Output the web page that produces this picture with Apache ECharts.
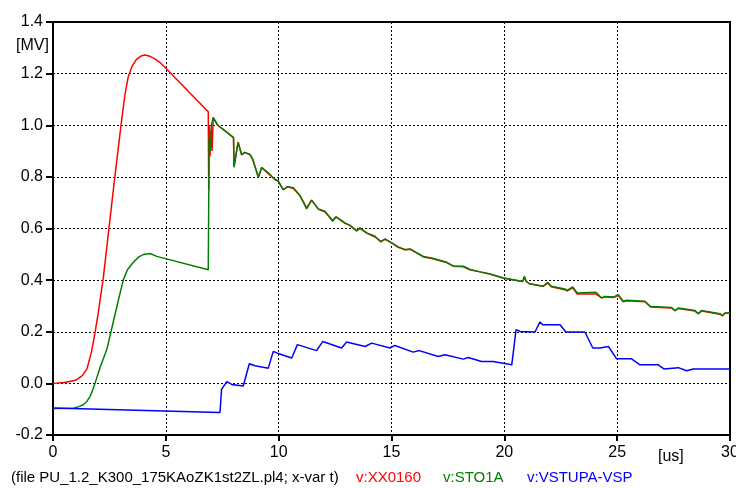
<!DOCTYPE html>
<html><head><meta charset="utf-8">
<script src="https://cdn.jsdelivr.net/npm/echarts@6/dist/echarts.min.js"></script>
<style>html,body{margin:0;padding:0;background:#fff}#c{width:736px;height:488px}</style>
</head><body><div id="c"></div>
<script>
const xTicks = [0,5,10,15,20,25,30];
const yTicks = [-0.2,0,0.2,0.4,0.6,0.8,1.0,1.2,1.4];
const seriesNames = ['v:XX0160','v:STO1A','v:VSTUPA-VSP'];
const fileLabel = '(file PU_1.2_K300_175KAoZK1st2ZL.pl4; x-var t)';

const redXX0160 = [[0,0],[0.5,0.003],[1.0,0.012],[1.3,0.03],[1.5,0.055],[1.7,0.12],[1.85,0.19],[2.0,0.27],[2.23,0.41],[2.7,0.77],[3.0,0.99],[3.19,1.12],[3.34,1.19],[3.5,1.228],[3.7,1.255],[3.9,1.268],[4.08,1.272],[4.3,1.267],[4.5,1.258],[4.74,1.243],[5.04,1.217],[6.88,1.052],[6.9,0.75],[6.93,1.0],[6.96,0.88],[7.0,0.98],[7.05,0.9],[7.1,1.03],[7.3,1.0],[7.6,0.98],[8.0,0.952],[8.02,0.84],[8.2,0.935],[8.36,0.885],[8.5,0.895],[8.73,0.885],[8.85,0.868],[9.1,0.8],[9.25,0.836],[9.54,0.812],[9.84,0.79],[9.98,0.784],[10.2,0.751],[10.4,0.762],[10.65,0.755],[10.94,0.728],[11.24,0.68],[11.46,0.71],[11.76,0.674],[12.05,0.665],[12.39,0.632],[12.54,0.645],[12.94,0.62],[13.16,0.612],[13.46,0.592],[13.6,0.6],[13.9,0.582],[14.27,0.567],[14.53,0.55],[14.71,0.558],[15.01,0.544],[15.3,0.527],[15.6,0.518],[15.82,0.52],[16.41,0.49],[16.78,0.484],[17.45,0.468],[17.74,0.454],[18.18,0.452],[18.48,0.44],[18.92,0.432],[19.36,0.424],[19.95,0.408],[20.81,0.395],[20.89,0.41],[20.97,0.395],[21.11,0.386],[21.71,0.376],[21.93,0.388],[22.08,0.374],[22.68,0.363],[22.79,0.358],[23.03,0.37],[23.23,0.346],[24.06,0.346],[24.31,0.331],[24.46,0.335],[24.86,0.333],[25.05,0.34],[25.27,0.316],[25.42,0.32],[26.23,0.316],[26.48,0.296],[27.41,0.292],[27.56,0.282],[27.71,0.29],[28.45,0.28],[28.59,0.27],[28.74,0.28],[29.56,0.268],[29.67,0.262],[29.78,0.272],[30,0.273]];

const greenSTO1A = [[0,-0.097],[0.9,-0.096],[1.15,-0.09],[1.34,-0.083],[1.5,-0.07],[1.64,-0.051],[1.75,-0.028],[1.86,0.0],[2.1,0.065],[2.38,0.13],[2.65,0.23],[2.9,0.324],[3.12,0.402],[3.3,0.44],[3.56,0.469],[3.8,0.49],[4.0,0.499],[4.3,0.503],[4.6,0.492],[6.88,0.44],[6.92,0.95],[6.97,0.9],[7.02,1.0],[7.1,1.03],[7.3,1.0],[7.6,0.98],[8.0,0.952],[8.02,0.837],[8.2,0.933],[8.36,0.887],[8.5,0.895],[8.73,0.887],[8.85,0.868],[9.1,0.797],[9.25,0.836],[9.54,0.816],[9.84,0.79],[9.98,0.784],[10.2,0.751],[10.4,0.762],[10.65,0.758],[10.94,0.728],[11.24,0.676],[11.46,0.71],[11.76,0.676],[12.05,0.667],[12.39,0.628],[12.54,0.645],[12.94,0.622],[13.16,0.612],[13.46,0.59],[13.6,0.603],[13.9,0.583],[14.27,0.57],[14.53,0.548],[14.71,0.56],[15.01,0.544],[15.3,0.529],[15.6,0.518],[15.82,0.521],[16.41,0.492],[16.78,0.486],[17.45,0.469],[17.74,0.454],[18.18,0.454],[18.48,0.441],[18.92,0.432],[19.36,0.424],[19.95,0.408],[20.81,0.395],[20.89,0.415],[20.97,0.395],[21.11,0.386],[21.71,0.376],[21.93,0.391],[22.08,0.376],[22.68,0.366],[22.79,0.36],[23.03,0.374],[23.23,0.35],[24.06,0.353],[24.31,0.331],[24.46,0.337],[24.86,0.335],[25.05,0.344],[25.27,0.318],[25.42,0.322],[26.23,0.318],[26.48,0.298],[27.41,0.294],[27.56,0.282],[27.71,0.292],[28.45,0.282],[28.59,0.27],[28.74,0.282],[29.56,0.27],[29.67,0.262],[29.78,0.273],[30,0.273]];

const blueVSTUPA = [[0,-0.095],[7.4,-0.113],[7.47,-0.023],[7.52,-0.019],[7.7,0.007],[7.92,-0.004],[8.43,-0.01],[8.7,0.076],[8.95,0.068],[9.54,0.059],[9.76,0.124],[9.94,0.117],[10.58,0.098],[10.83,0.15],[11.68,0.127],[11.95,0.162],[12.79,0.137],[13.01,0.16],[13.83,0.143],[14.12,0.156],[14.93,0.137],[15.15,0.147],[15.96,0.121],[16.23,0.127],[17.07,0.104],[17.37,0.111],[18.18,0.094],[18.4,0.1],[18.99,0.085],[19.5,0.085],[20.33,0.072],[20.52,0.208],[20.7,0.201],[21.36,0.199],[21.58,0.238],[21.7,0.227],[22.47,0.227],[22.73,0.199],[23.57,0.199],[23.92,0.137],[24.24,0.137],[24.61,0.143],[24.98,0.095],[25.64,0.095],[26.01,0.072],[26.82,0.072],[27.07,0.056],[27.71,0.061],[28.08,0.049],[28.37,0.056],[30,0.056]];

const colors = ['#ff0000','#008000','#0000ff'];
const FONT = 'Arial, "Liberation Sans", sans-serif';

const chart = echarts.init(document.getElementById('c'), null, {renderer:'canvas'});
const mk = (name, data, color) => ({
  name, type:'line', data, symbol:'none', smooth:false, animation:false,
  lineStyle:{color, width:1.5}, itemStyle:{color}
});
chart.setOption({
  animation:false,
  backgroundColor:'#fff',
  grid:{left:53, right:6, top:22, bottom:53, containLabel:false, outerBoundsMode:'none',
        show:true, borderColor:'#000', borderWidth:2, backgroundColor:'transparent'},
  xAxis:{
    type:'value', min:xTicks[0], max:xTicks[xTicks.length-1], interval:5,
    axisLine:{show:true, onZero:false, lineStyle:{color:'#000', width:2}},
    axisTick:{show:true, inside:false, length:6, lineStyle:{color:'#000', width:2}},
    axisLabel:{color:'#000', fontSize:16, fontFamily:FONT, margin:10, hideOverlap:false, showMaxLabel:true, formatter:v=>String(v)},
    splitLine:{show:true, lineStyle:{color:'#000', width:1, type:[2,2]}}
  },
  yAxis:{
    type:'value', min:yTicks[0], max:yTicks[yTicks.length-1], interval:0.2,
    axisLine:{show:true, onZero:false, lineStyle:{color:'#000', width:2}},
    axisTick:{show:true, inside:false, length:7, lineStyle:{color:'#000', width:2}},
    axisLabel:{color:'#000', fontSize:16, fontFamily:FONT, margin:10, formatter:v=>v.toFixed(1)},
    splitLine:{show:true, lineStyle:{color:'#000', width:1, type:[2,2]}}
  },
  graphic:[
    {type:'text', left:16, top:38, style:{text:'[MV]', fontSize:16, fontFamily:FONT, fill:'#000'}},
    {type:'text', left:658, top:449, style:{text:'[us]', fontSize:16, fontFamily:FONT, fill:'#000'}},
    {type:'text', left:11, top:470, style:{text:fileLabel, fontSize:15, fontFamily:FONT, fill:'#000'}},
    {type:'text', left:356, top:470, style:{text:seriesNames[0], fontSize:15, fontFamily:FONT, fill:colors[0]}},
    {type:'text', left:443, top:470, style:{text:seriesNames[1], fontSize:15, fontFamily:FONT, fill:colors[1]}},
    {type:'text', left:527, top:470, style:{text:seriesNames[2], fontSize:15, fontFamily:FONT, fill:colors[2]}}
  ],
  series:[
    mk(seriesNames[0], redXX0160, colors[0]),
    mk(seriesNames[1], greenSTO1A, colors[1]),
    mk(seriesNames[2], blueVSTUPA, colors[2])
  ]
});
</script></body></html>
